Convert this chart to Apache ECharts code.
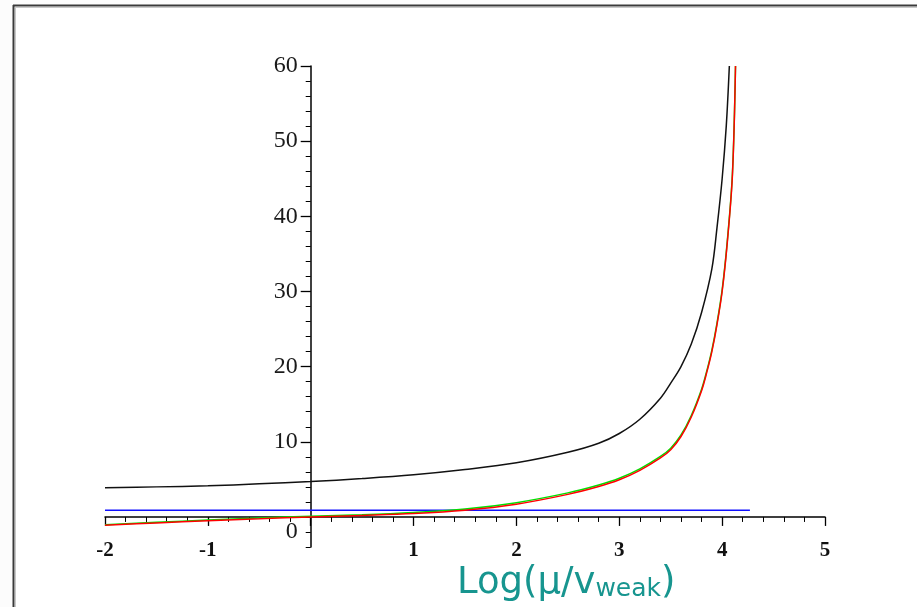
<!DOCTYPE html>
<html>
<head>
<meta charset="utf-8">
<script src="https://cdn.jsdelivr.net/npm/echarts@6/dist/echarts.min.js"></script>
<style>
html,body{margin:0;padding:0;background:#fcfcfc;}
#c{width:917px;height:607px;}
</style>
</head>
<body>
<div id="c"></div>
<script>
// ---- data ----
const blackX = [-2, -1.5, -1, -0.5, 0, 0.5, 1, 1.5, 2, 2.5, 2.8, 3, 3.2, 3.4, 3.5, 3.6, 3.7, 3.8, 3.9, 3.95, 4.0, 4.04, 4.07];
const blackY = [3.9, 4.0, 4.15, 4.4, 4.7, 5.1, 5.6, 6.3, 7.2, 8.6, 9.8, 11.1, 13.0, 15.8, 17.8, 20.0, 23.0, 27.2, 33.0, 38.5, 45.0, 52.0, 60.0];

const redX = [-2, -1.5, -1, -0.5, 0, 0.5, 1, 1.5, 2, 2.5, 2.8, 3, 3.2, 3.4, 3.5, 3.6, 3.7, 3.8, 3.85, 3.9, 3.95, 4.0, 4.05, 4.1, 4.13];
const redY = [-1.1, -0.8, -0.5, -0.25, 0, 0.2, 0.45, 0.9, 1.7, 3.0, 4.05, 4.95, 6.2, 7.85, 8.95, 10.7, 13.3, 16.8, 19.2, 22.0, 25.6, 30.0, 36.5, 45.5, 60.0];

const greenX = [-2, -1.5, -1, -0.5, 0, 0.5, 1, 1.5, 2, 2.5, 2.8, 3, 3.2, 3.4, 3.5, 3.6, 3.7, 3.8, 3.85, 3.9, 3.95, 4.0, 4.05, 4.1, 4.13];
const greenY = [-1.05, -0.72, -0.42, -0.15, 0.1, 0.3, 0.6, 1.05, 1.9, 3.2, 4.25, 5.15, 6.4, 8.05, 9.15, 10.9, 13.5, 17.0, 19.4, 22.2, 25.8, 30.2, 36.7, 45.7, 60.0];

const blueX = [-2, 4.27];
const blueY = [0.9, 0.9];

const yMajorTicks = [10, 20, 30, 40, 50, 60];
const hiddenXLabel = 0;
const axisTitleMain = 'Log(μ/v';
const axisTitleSub = 'weak';

function pairs(xs, ys) { return xs.map((x, i) => [x, ys[i]]); }

const W = 917, H = 607;
const G = {left: 105, right: 92, top: 66, bottom: 60};
const xMin = -2, xMax = 5, yMin = -4, yMax = 60;
const gw = W - G.left - G.right, gh = H - G.top - G.bottom;
// place the axes through the origin by shifting them from the grid edges
const yAxisShift = -((0 - xMin) / (xMax - xMin)) * gw;
const xAxisShift = -((0 - yMin) / (yMax - yMin)) * gh;

const chart = echarts.init(document.getElementById('c'), null, {renderer: 'canvas'});
const serifFont = '"Liberation Serif", "DejaVu Serif", serif';

function lineSeries(name, xs, ys, color) {
  return {
    name: name, type: 'line', data: pairs(xs, ys),
    showSymbol: false, smooth: 0.35,
    lineStyle: {color: color, width: 1.5}, itemStyle: {color: color},
    clip: false, silent: true, yAxisIndex: 0
  };
}

chart.setOption({
  animation: false,
  backgroundColor: '#fcfcfc',
  grid: Object.assign({containLabel: false, show: false}, G),
  xAxis: {
    type: 'value', min: xMin, max: xMax, interval: 1, offset: xAxisShift,
    axisLine: {onZero: false, lineStyle: {color: '#000', width: 1.5}},
    axisTick: {length: 9, lineStyle: {color: '#000', width: 1.3}},
    minorTick: {show: true, splitNumber: 5, length: 5, lineStyle: {color: '#000', width: 1}},
    splitLine: {show: false},
    axisLabel: {
      margin: 23, color: '#111', fontFamily: serifFont, fontSize: 21, fontWeight: 'bold',
      formatter: v => (v === hiddenXLabel ? '' : String(v))
    }
  },
  yAxis: [{
    type: 'value', min: yMin, max: yMax, interval: 2, offset: yAxisShift,
    axisLine: {show: true, onZero: false, lineStyle: {color: '#000', width: 1.5}},
    axisTick: {length: 5, lineStyle: {color: '#000', width: 1}},
    splitLine: {show: false},
    axisLabel: {
      margin: 13, color: '#1a1a1a', fontFamily: serifFont, fontSize: 24,
      formatter: v => (v === -2 ? '0' : (v > 0 && v % 10 === 0 ? String(v) : ''))
    }
  }, {
    type: 'value', min: yMin, max: yMax, position: 'left', offset: yAxisShift,
    axisLine: {show: false, onZero: false},
    axisTick: {show: true, length: 10, customValues: yMajorTicks, lineStyle: {color: '#000', width: 1.3}},
    axisLabel: {show: false},
    splitLine: {show: false}
  }],
  title: {
    left: 452, top: 553,
    text: '{a|' + axisTitleMain + '}{b|' + axisTitleSub + '}{a|)}',
    textStyle: {
      fontWeight: 'normal',
      rich: {
        a: {fontFamily: '"DejaVu Sans", sans-serif', fontWeight: 'normal', fontSize: 37, color: '#17958f', lineHeight: 44, verticalAlign: 'bottom'},
        b: {fontFamily: '"DejaVu Sans", sans-serif', fontWeight: 'normal', fontSize: 25, color: '#17958f', lineHeight: 24, verticalAlign: 'bottom'}
      }
    }
  },
  graphic: [
    {type: 'line', shape: {x1: 13.5, y1: 5, x2: 13.5, y2: 607}, style: {stroke: '#3a3a3a', lineWidth: 2}, silent: true},
    {type: 'line', shape: {x1: 13, y1: 5.5, x2: 917, y2: 5.5}, style: {stroke: '#3a3a3a', lineWidth: 2}, silent: true},
    {type: 'line', shape: {x1: 15.5, y1: 7, x2: 15.5, y2: 607}, style: {stroke: '#c8c8c8', lineWidth: 1}, silent: true},
    {type: 'line', shape: {x1: 15, y1: 7.5, x2: 917, y2: 7.5}, style: {stroke: '#c8c8c8', lineWidth: 1}, silent: true},
    {type: 'rect', shape: {x: 16, y: 8, width: 901, height: 599}, style: {fill: '#ffffff'}, z: -10, silent: true}
  ],
  series: [
    lineSeries('blue', blueX, blueY, '#1010ff'),
    lineSeries('black', blackX, blackY, '#111111'),
    lineSeries('green', greenX, greenY, '#00e000'),
    lineSeries('red', redX, redY, '#ff0000')
  ]
});
</script>
</body>
</html>
